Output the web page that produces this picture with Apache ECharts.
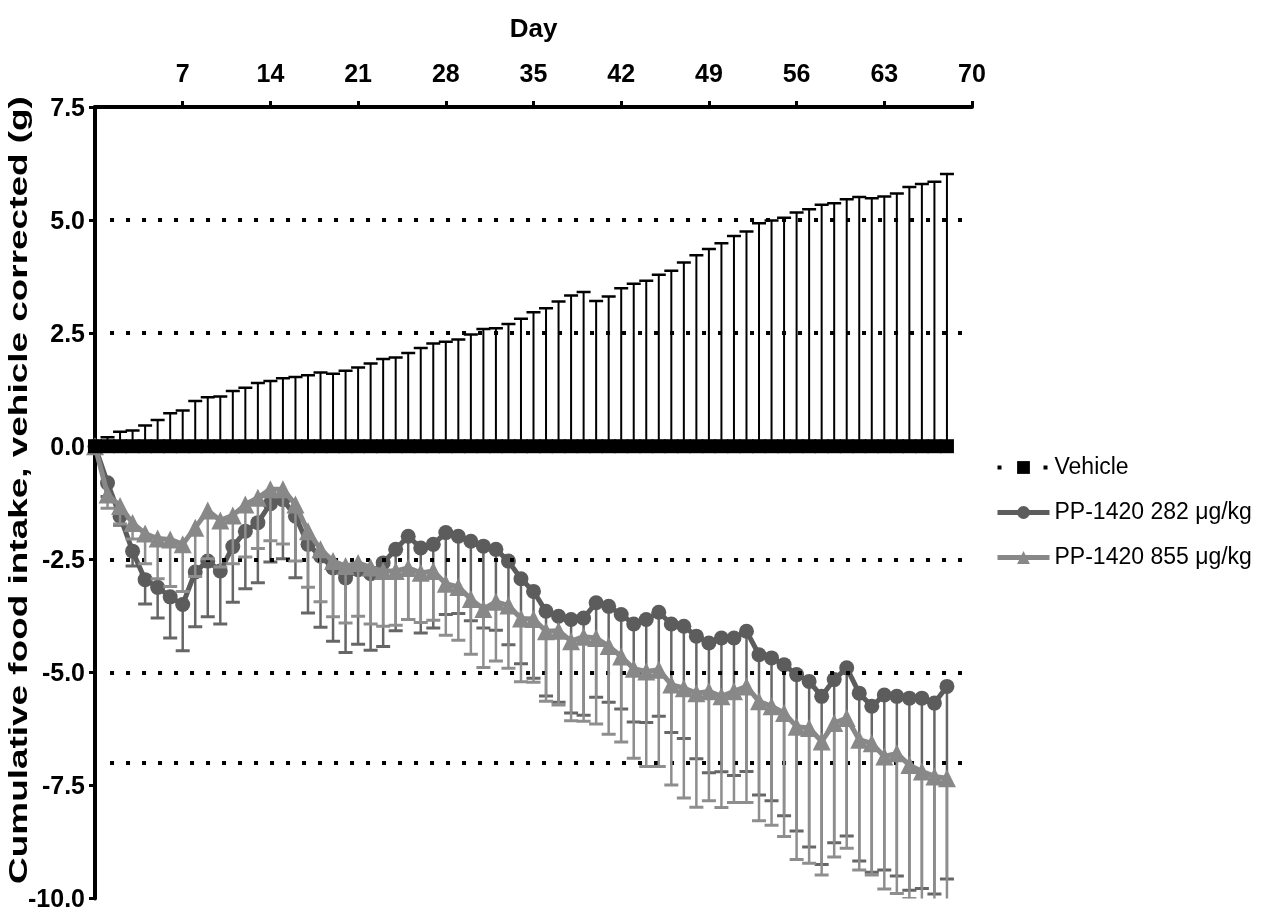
<!DOCTYPE html>
<html>
<head>
<meta charset="utf-8">
<script src="https://cdn.jsdelivr.net/npm/echarts@6/dist/echarts.min.js"></script>
<style>
  html, body { margin: 0; padding: 0; background: #fff; }
  #chart { width: 1278px; height: 913px; }
</style>
</head>
<body>
<div id="chart"></div>
<script>
// Study day of each measurement
const days = [0,1,2,3,4,5,6,7,8,9,10,11,12,13,14,15,16,17,18,19,20,21,22,23,24,25,26,27,28,29,30,31,32,33,34,35,36,37,38,39,40,41,42,43,44,45,46,47,48,49,50,51,52,53,54,55,56,57,58,59,60,61,62,63,64,65,66,67,68];

// Vehicle group (reference, corrected to zero) and its SEM
const vehicleMean = [0,0,0,0,0,0,0,0,0,0,0,0,0,0,0,0,0,0,0,0,0,0,0,0,0,0,0,0,0,0,0,0,0,0,0,0,0,0,0,0,0,0,0,0,0,0,0,0,0,0,0,0,0,0,0,0,0,0,0,0,0,0,0,0,0,0,0,0,0];
const vehicleSem = [0,0.20,0.32,0.35,0.46,0.58,0.73,0.79,1.00,1.08,1.10,1.22,1.29,1.40,1.44,1.50,1.53,1.57,1.63,1.60,1.67,1.74,1.83,1.93,1.96,2.06,2.17,2.27,2.31,2.36,2.47,2.59,2.61,2.70,2.82,2.96,3.05,3.20,3.33,3.41,3.21,3.31,3.49,3.59,3.66,3.79,3.88,4.06,4.22,4.36,4.49,4.65,4.75,4.93,4.99,5.05,5.17,5.24,5.34,5.37,5.46,5.51,5.48,5.52,5.59,5.73,5.80,5.85,6.02];

// PP-1420 282 ug/kg
const lowMean = [0,-0.81,-1.55,-2.32,-2.95,-3.12,-3.33,-3.50,-2.78,-2.54,-2.76,-2.22,-1.88,-1.69,-1.27,-1.18,-1.55,-2.17,-2.43,-2.69,-2.91,-2.73,-2.82,-2.58,-2.28,-1.99,-2.25,-2.17,-1.91,-1.99,-2.10,-2.21,-2.28,-2.54,-2.93,-3.21,-3.65,-3.76,-3.83,-3.80,-3.46,-3.54,-3.72,-3.93,-3.83,-3.67,-3.93,-3.98,-4.20,-4.35,-4.24,-4.24,-4.09,-4.61,-4.68,-4.83,-5.05,-5.20,-5.53,-5.16,-4.90,-5.46,-5.75,-5.50,-5.53,-5.57,-5.57,-5.68,-5.31];
const lowSem = [0,0.30,0.20,0.33,0.54,0.68,0.91,1.02,1.21,1.23,1.17,1.23,1.27,1.33,1.29,1.31,1.36,1.52,1.57,1.62,1.65,1.65,1.69,1.85,1.80,1.84,1.88,1.85,1.81,1.71,1.76,1.81,1.79,1.85,1.88,1.92,1.87,1.90,2.07,2.15,2.09,2.12,2.09,2.17,2.28,2.30,2.40,2.48,2.71,2.87,2.96,3.04,3.10,3.10,3.16,3.34,3.46,3.66,3.72,3.61,3.72,3.71,3.67,3.87,3.97,4.25,4.21,4.22,4.26];

// PP-1420 855 ug/kg
const highMean = [0,-1.07,-1.32,-1.70,-1.93,-2.04,-2.06,-2.17,-1.80,-1.42,-1.64,-1.53,-1.29,-1.14,-0.95,-0.95,-1.29,-1.88,-2.28,-2.54,-2.65,-2.58,-2.68,-2.76,-2.76,-2.69,-2.80,-2.76,-3.04,-3.11,-3.38,-3.60,-3.44,-3.52,-3.81,-3.82,-4.09,-4.08,-4.31,-4.21,-4.24,-4.42,-4.65,-4.92,-4.98,-4.94,-5.27,-5.35,-5.46,-5.42,-5.53,-5.42,-5.31,-5.64,-5.75,-5.90,-6.20,-6.23,-6.53,-6.12,-6.01,-6.49,-6.57,-6.86,-6.79,-7.05,-7.19,-7.30,-7.34];
const highSem = [0,0.30,0.40,0.35,0.67,0.89,1.04,1.04,1.08,1.07,1.03,1.07,1.16,1.12,1.14,1.21,1.25,1.24,1.16,1.23,1.26,1.18,1.25,1.22,1.20,1.14,1.10,1.09,1.14,1.18,1.22,1.29,1.31,1.39,1.40,1.40,1.55,1.64,1.76,1.87,1.90,1.95,1.89,1.98,2.10,2.14,2.22,2.43,2.52,2.42,2.46,2.46,2.57,2.64,2.63,2.73,2.94,2.99,2.95,2.96,2.88,2.88,2.91,2.93,3.10,2.95,3.10,3.10,3.20];

// Reference levels drawn as dotted rules
const refLevels = [5.0, 2.5, -2.5, -5.0, -7.0];

const seriesNames = ['Vehicle', 'PP-1420 282 \u03bcg/kg', 'PP-1420 855 \u03bcg/kg'];
const yTitle = 'Cumulative food intake, vehicle corrected (g)';

const FONT = "'Liberation Sans', Arial, Helvetica, sans-serif";
const C_LOW = '#5c5c5c';
const C_LOW_ERR = '#666666';
const C_HIGH = '#888888';
const C_HIGH_ERR = '#8e8e8e';

function pairs(mean) { return days.map((d, i) => [d, mean[i]]); }
function errData(mean, sem, sign) {
  const out = [];
  days.forEach((d, i) => { if (sem[i] > 0) out.push([d, mean[i], mean[i] + sign * sem[i]]); });
  return out;
}
function errRenderer(color, lw, capHalf) {
  return function (params, api) {
    const x = api.value(0), y0 = api.value(1), y1 = api.value(2);
    const p0 = api.coord([x, y0]);
    const p1 = api.coord([x, y1]);
    return {
      type: 'group',
      children: [
        { type: 'line', shape: { x1: p0[0], y1: p0[1], x2: p1[0], y2: p1[1] }, style: { stroke: color, lineWidth: lw } },
        { type: 'line', shape: { x1: p1[0] - capHalf, y1: p1[1], x2: p1[0] + capHalf, y2: p1[1] }, style: { stroke: color, lineWidth: lw + 0.5 } }
      ]
    };
  };
}

const chart = echarts.init(document.getElementById('chart'), null, { renderer: 'canvas' });

chart.setOption({
  backgroundColor: '#ffffff',
  animation: false,
  textStyle: { fontFamily: FONT },
  grid: { left: 95, right: 306, top: 107, bottom: 10, containLabel: false },
  xAxis: {
    type: 'value', position: 'top', min: 0, max: 70, interval: 7,
    name: 'Day', nameLocation: 'middle', nameGap: 64,
    nameTextStyle: { fontFamily: FONT, fontWeight: 'bold', fontSize: 26, color: '#000' },
    axisLine: { onZero: false, lineStyle: { color: '#000', width: 4 } },
    axisTick: { show: true, length: 6, lineStyle: { color: '#000', width: 3 } },
    axisLabel: { showMinLabel: false, fontFamily: FONT, fontWeight: 'bold', fontSize: 25, color: '#000', margin: 19 },
    splitLine: { show: false }
  },
  yAxis: {
    type: 'value', min: -10, max: 7.5, interval: 2.5,
    axisLine: { show: true, onZero: false, lineStyle: { color: '#000', width: 4 } },
    axisTick: { show: true, length: 6, lineStyle: { color: '#000', width: 3 } },
    axisLabel: {
      formatter: v => '{t|' + v.toFixed(1) + '}', margin: 10,
      rich: { t: { fontFamily: FONT, fontWeight: 'bold', fontSize: 25, color: '#000', padding: [4, 0, 0, 0] } }
    },
    splitLine: { show: false }
  },
  legend: {
    orient: 'vertical', left: 990, top: 451,
    itemWidth: 52, itemHeight: 16, itemGap: 22,
    textStyle: { fontFamily: FONT, fontSize: 23, color: '#000' },
    data: [
      { name: seriesNames[0], itemStyle: { color: '#000' }, lineStyle: { type: [4, 19], width: 4, color: '#000' } },
      { name: seriesNames[1], lineStyle: { width: 5 } },
      { name: seriesNames[2], lineStyle: { width: 5 } }
    ]
  },
  graphic: [
    {
      type: 'text', x: 20, y: 490, rotation: Math.PI / 2, scaleX: 1.42,
      style: { text: yTitle, font: 'bold 26px ' + FONT, fill: '#000', align: 'center', verticalAlign: 'middle' }
    }
  ],
  series: [
    {
      name: 'refs', type: 'line', data: [], silent: true, z: 1,
      markLine: {
        silent: true, symbol: 'none', animation: false,
        label: { show: false },
        lineStyle: { color: '#000', width: 4, type: [4, 12], dashOffset: 0 },
        data: refLevels.map(v => [{ coord: [1.2, v] }, { coord: [69.2, v] }])
      }
    },
    {
      name: 'vehErr', type: 'custom', clip: true, z: 2, silent: true,
      renderItem: errRenderer('#000', 2, 7),
      data: errData(vehicleMean, vehicleSem, 1)
    },
    {
      name: 'lowErr', type: 'custom', clip: true, z: 3, silent: true,
      renderItem: errRenderer(C_LOW_ERR, 2.5, 7),
      data: errData(lowMean, lowSem, -1)
    },
    {
      name: seriesNames[1], type: 'line', z: 4,
      data: pairs(lowMean),
      symbol: 'circle', symbolSize: 15,
      lineStyle: { color: C_LOW, width: 5 },
      itemStyle: { color: C_LOW }
    },
    {
      name: 'highErr', type: 'custom', clip: true, z: 5, silent: true,
      renderItem: errRenderer(C_HIGH_ERR, 2.5, 7),
      data: errData(highMean, highSem, -1)
    },
    {
      name: seriesNames[2], type: 'line', z: 6,
      data: pairs(highMean),
      symbol: 'triangle', symbolSize: 18,
      lineStyle: { color: C_HIGH, width: 5 },
      itemStyle: { color: C_HIGH }
    },
    {
      name: seriesNames[0], type: 'line', z: 7,
      data: pairs(vehicleMean),
      symbol: 'rect', symbolSize: 14,
      lineStyle: { color: '#000', width: 6 },
      itemStyle: { color: '#000' }
    }
  ]
});
</script>
</body>
</html>
